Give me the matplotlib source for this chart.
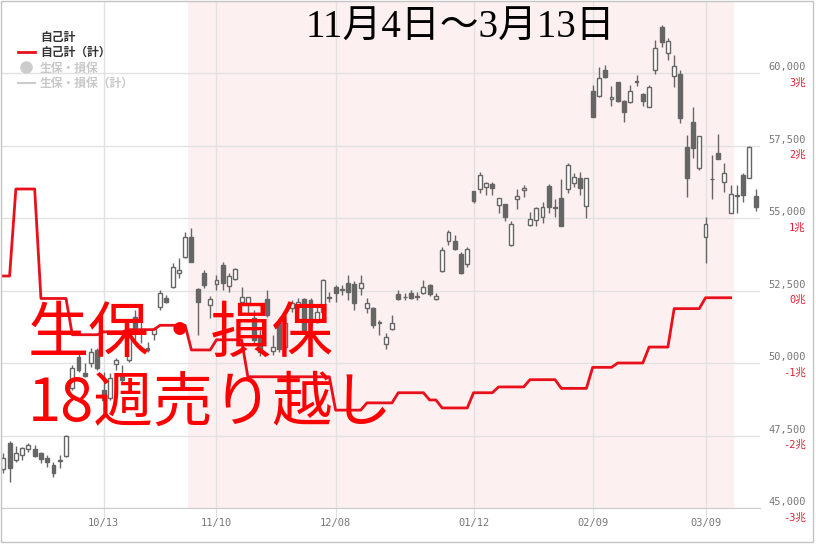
import matplotlib.pyplot as plt
import matplotlib.transforms as mtransforms
from matplotlib.lines import Line2D
from matplotlib.patches import Rectangle
import numpy as np

# daily candles (trading-day index 0..120), price values
opens = [46345, 47241, 46655, 46828, 47034, 47034, 46897, 46724, 46483, 46621,
         46793, 49138, 50207, 49655, 50000, 50448, 49069, 48793, 49966, 49552,
         50103, 51586, 51069, 50517, 51000, 51931, 52241, 52621, 53103, 53655,
         54345, 52552, 53103, 52000, 52724, 53379, 52655, 52897, 52103, 52069,
         51552, 50966, 52207, 50414, 51379, 50552, 51897, 51931, 52207, 52172,
         51414, 51759, 52241, 52621, 52517, 52759, 52724, 52586, 51897, 51897,
         51379, 50655, 51172, 52379, 52259, 52414, 52276, 52414, 52690, 52207,
         53172, 54207, 54207, 53759, 53414, 55931, 56000, 56069, 56172, 55448,
         55483, 54069, 55655, 55966, 54759, 54931, 55034, 56103, 55345, 55690,
         56000, 56207, 56379, 55414, 59379, 59207, 60103, 59103, 59690, 59034,
         59000, 59690, 59276, 58828, 60103, 61586, 60690, 59897, 59966, 57448,
         58310, 56724, 54345, 56328, 57241, 56241, 55172, 55759, 56483, 56379,
         55759]
highs = [46897, 47310, 47138, 47103, 47241, 47172, 46931, 46828, 46586, 46828,
         47517, 49931, 50345, 50000, 50517, 50517, 49690, 49655, 50172, 49931,
         51138, 51828, 51483, 50724, 51241, 52517, 52345, 53448, 53621, 54517,
         54655, 52586, 53207, 52310, 53034, 53483, 53103, 53276, 52621, 52276,
         51828, 51138, 52517, 50966, 51552, 51552, 52172, 52241, 52241, 52241,
         51931, 52897, 52448, 52690, 52690, 53034, 52828, 53034, 52241, 51931,
         51483, 51034, 51655, 52517, 52414, 52517, 52448, 52862, 52724, 52414,
         54000, 54586, 54414, 53828, 54000, 55931, 56586, 56241, 56241, 55690,
         55483, 54897, 56000, 56138, 55207, 55379, 55552, 56172, 55655, 56345,
         56897, 56552, 56586, 56379, 59586, 60207, 60276, 59552, 59690, 59069,
         59586, 59931, 59310, 59586, 61138, 61655, 61207, 60621, 60103, 57862,
         58828, 57828, 55034, 57172, 57897, 56897, 56138, 56138, 56552, 57483,
         56000]
lows = [46207, 45897, 46586, 46655, 46931, 46759, 46552, 46414, 46069, 46379,
        46759, 49069, 49690, 49517, 49862, 49759, 48655, 48724, 49759, 49345,
        50034, 50724, 50690, 50379, 50793, 51828, 52069, 52586, 52931, 53621,
        53483, 50966, 52586, 51552, 52517, 52517, 52448, 52862, 52069, 51724,
        50621, 50241, 51586, 50276, 50379, 50448, 51759, 51759, 51069, 51207,
        51379, 51655, 52103, 52103, 52345, 52172, 51828, 52345, 51724, 51207,
        50966, 50483, 51138, 52172, 52172, 52207, 52172, 52379, 52310, 52172,
        53138, 54069, 53897, 53069, 53310, 55517, 55862, 55793, 55793, 55172,
        54897, 54034, 55310, 55724, 54724, 54724, 54828, 55172, 55034, 54724,
        55862, 56069, 55793, 55000, 58483, 59172, 59828, 58862, 59000, 58310,
        58966, 59552, 58862, 58828, 59966, 60897, 60448, 59517, 58276, 55724,
        57069, 56655, 53448, 55655, 57034, 55897, 55172, 55172, 55552, 56379,
        55241]
closes = [46724, 46379, 46897, 47069, 47172, 46793, 46690, 46586, 46207, 46655,
          47483, 49828, 49759, 49552, 50379, 49828, 48724, 49483, 50103, 49414,
          50966, 51138, 51138, 50448, 51172, 52414, 52103, 53310, 53207, 54345,
          53483, 52103, 52690, 52207, 52862, 52759, 53000, 53241, 52276, 52276,
          50793, 50379, 51655, 50552, 50483, 51379, 52069, 52103, 51138, 51310,
          51759, 52862, 52276, 52414, 52552, 52448, 52069, 52759, 52069, 51310,
          51414, 50897, 51379, 52207, 52293, 52241, 52310, 52621, 52379, 52310,
          53897, 54517, 53931, 53103, 53931, 55586, 56483, 56207, 56034, 55690,
          55034, 54793, 55759, 56034, 54966, 55345, 55379, 55379, 55379, 54724,
          56828, 56414, 56034, 56379, 58483, 59828, 59862, 59172, 59034, 58655,
          59379, 59724, 59034, 59517, 60862, 61069, 61103, 60241, 58448, 56379,
          57414, 57828, 54793, 56362, 57034, 56552, 55828, 55793, 55793, 57448,
          55379]

# weekly cumulative net buying of 自己計 (trillion yen), with first/last day of each week
week_start = [0, 2, 6, 11, 16, 20, 25, 30, 34, 39, 44, 48, 53, 58, 63, 68, 70,
              75, 79, 84, 89, 94, 98, 103, 107, 112]
week_end = [1, 5, 10, 15, 19, 24, 29, 33, 38, 43, 47, 52, 57, 62, 67, 69, 74,
            78, 83, 88, 93, 97, 102, 106, 111, 116]
jiko_cum = [0.20, 1.40, -0.11, -0.61, -0.57, -0.54, -0.48, -0.82, -0.68, -1.19,
            -1.19, -1.19, -1.65, -1.55, -1.41, -1.51, -1.62, -1.41, -1.33, -1.23,
            -1.35, -1.06, -1.00, -0.78, -0.25, -0.10]

tick_pos = [16, 34, 53, 75, 94, 112]
tick_labels = ['10/13', '11/10', '12/08', '01/12', '02/09', '03/09']
price_ticks = [45000, 47500, 50000, 52500, 55000, 57500, 60000]
cho_ticks = [-3, -2, -1, 0, 1, 2, 3]

CJK = 'Noto Sans CJK JP'
plt.rcParams['font.family'] = ['DejaVu Sans Mono', CJK]

W, H = 816, 544
fig = plt.figure(figsize=(W / 100, H / 100), dpi=100)
ax = fig.add_axes([1 / W, 36 / H, 759 / W, 507 / H])
ax2 = ax.twinx()

y_top = 45000 + 507 / 72.5 * 2500
ax.set_xlim(-0.37, 120.69)
ax.set_ylim(45000, y_top)

ax.axvspan(29.5, 116.5, color='#fdf0f0', zorder=0, lw=0)

# candles
idx = np.arange(len(opens))
o = np.array(opens)
c = np.array(closes)
up = c >= o
gray = '#666666'
ax.vlines(idx, lows, highs, color=gray, lw=1, zorder=3)
ax.bar(idx[up], (c - o)[up], bottom=o[up], width=0.62, color='white',
       edgecolor=gray, lw=1, zorder=4)
ax.bar(idx[~up], (o - c)[~up], bottom=c[~up], width=0.62, color=gray,
       edgecolor=gray, lw=1, zorder=4)

ax.set_axisbelow(True)
ax.grid(True, color='#e2e2e2', lw=1)
for s in ['top', 'right', 'left']:
    ax.spines[s].set_visible(False)
ax.spines['bottom'].set_color('#cccccc')

ax.set_xticks(tick_pos)
ax.set_xticklabels(tick_labels)
ax.tick_params(axis='x', length=6.5, color='#dddddd', pad=1, labelsize=7.5,
               labelcolor='#777777')

ax.set_yticks(price_ticks)
ax.set_yticklabels([f'{v:,}' for v in price_ticks])
ax.tick_params(axis='y', left=False, right=True, labelleft=False, labelright=True,
               length=0, pad=33, labelsize=7.5, labelcolor='#777777')
up_shift = mtransforms.ScaledTranslation(0, 5 / 72, fig.dpi_scale_trans)
for t in ax.yaxis.get_major_ticks():
    t.label2.set_horizontalalignment('right')
    t.label2.set_transform(t.label2.get_transform() + up_shift)

# cumulative line on the 兆 scale
ax2.set_ylim((45000 - 52500) / 2500, (y_top - 52500) / 2500)
ax2.set_yticks(cho_ticks)
ax2.set_yticklabels([f'{t}兆' for t in cho_ticks])
ax2.tick_params(axis='y', length=0, pad=33, labelsize=7.5, labelcolor='#e02030')
down_shift = mtransforms.ScaledTranslation(0, -6 / 72, fig.dpi_scale_trans)
for t in ax2.yaxis.get_major_ticks():
    t.label2.set_horizontalalignment('right')
    t.label2.set_transform(t.label2.get_transform() + down_shift)
for s in ax2.spines.values():
    s.set_visible(False)

xs = np.column_stack([week_start, week_end]).ravel()
ys = np.repeat(jiko_cum, 2)
ax2.plot(xs, ys, color='#e8101a', lw=2, zorder=5)

handles = [Line2D([], [], color='none'),
           Line2D([], [], color='#e8101a', lw=2),
           Line2D([], [], color='#cccccc', marker='o', ls='none', markersize=8),
           Line2D([], [], color='#cccccc', lw=1.5)]
labels = ['自己計', '自己計（計）', '生保・損保', '生保・損保（計）']
leg = ax2.legend(handles, labels, loc='upper left',
                 bbox_to_anchor=(12 / W, 1 - 25 / H), bbox_transform=fig.transFigure,
                 frameon=False, borderpad=0, handlelength=1.45, handletextpad=0.42,
                 labelspacing=0.2, prop={'family': CJK, 'size': 8.5, 'weight': 'bold'})
for t, col in zip(leg.get_texts(), ['#333333', '#333333', '#c8c8c8', '#c8c8c8']):
    t.set_color(col)

# title and overlay text
fig.text(460 / W, 1 - 28 / H, '11月4日～3月13日', ha='center', va='center',
         fontsize=28, family=['Liberation Serif', CJK], color='black')
fig.text(28 / W, 1 - 335 / H, '生保・損保', ha='left', va='center',
         fontsize=44, family=CJK, color='#ff0000', zorder=10)
fig.text(28 / W, 1 - 404 / H, '18週売り越し', ha='left', va='center',
         fontsize=43, family=CJK, color='#ff0000', zorder=10)

fig.patches.append(Rectangle((1 / W, 2 / H), 812 / W, 541 / H, transform=fig.transFigure,
                             fill=False, edgecolor='#c4c4c4', lw=1))

fig.savefig('out.png', dpi=100)
